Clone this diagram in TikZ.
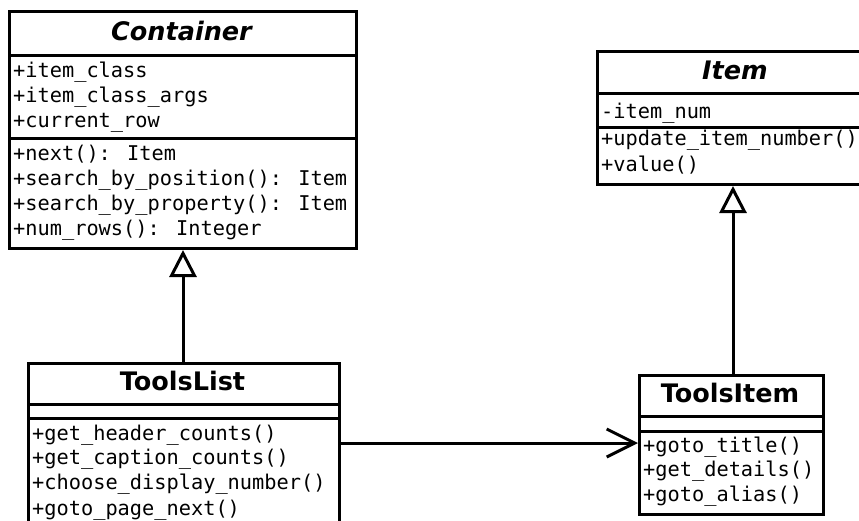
\documentclass[tikz,border=0pt]{standalone}
\usepackage{fontspec}
\setmainfont{DejaVu Sans}
\newfontfamily\membfont{DejaVu Sans Mono}
\usetikzlibrary{arrows.meta}
\tikzset{
  umlbox/.style={draw, line width=3pt, rectangle, inner sep=0pt},
  divline/.style={line width=3pt},
  member/.style={anchor=west, inner sep=0pt, font=\membfont\fontsize{20.3}{24}\selectfont, text height=15pt, text depth=5pt},
  titletext/.style={inner sep=0pt, font=\fontsize{25.5}{28}\selectfont\bfseries, text height=19pt, text depth=5pt},
  abstitle/.style={titletext, font=\fontsize{25.5}{28}\selectfont\bfseries\itshape},
  conn/.style={line width=3pt},
  gen/.style={conn, -{Triangle[open, length=27pt, width=27pt, line width=3pt]}},
  nav/.style={conn, -{Straight Barb[length=28pt, width=28pt, line width=3pt]}},
}
\begin{document}
\begin{tikzpicture}[x=1pt, y=-1pt]
\useasboundingbox (0,0) rectangle (859,520);
\clip (0,0) rectangle (859,520);
% Container
\node[umlbox, anchor=north west, minimum width=347pt, minimum height=237pt] (cont) at (8,10) {};
\draw[divline] (8,55) -- (355,55);
\draw[divline] (8,138) -- (355,138);
\node[abstitle] (contT) at (181.5,33) {Container};
\node[member] (c1) at (13,72) {+item\_class};
\node[member] (c2) at (13,97) {+item\_class\_args};
\node[member] (c3) at (13,122) {+current\_row};
\node[member] (c4) at (13,155) {+next(): Item};
\node[member] (c5) at (13,180) {+search\_by\_position(): Item};
\node[member] (c6) at (13,205) {+search\_by\_property(): Item};
\node[member] (c7) at (13,230) {+num\_rows(): Integer};
% Item
\node[umlbox, anchor=north west, minimum width=284pt, minimum height=133pt] (item) at (596,50) {};
\draw[divline] (596,93) -- (880,93);
\draw[divline] (596,127) -- (880,127);
\node[abstitle] (itemT) at (735,72) {Item};
\node[member] (i1) at (601,113) {-item\_num};
\node[member] (i2) at (601,140) {+update\_item\_number()};
\node[member] (i3) at (601,166) {+value()};
% ToolsList
\node[umlbox, anchor=north west, minimum width=311pt, minimum height=200pt] (tl) at (27,362) {};
\draw[divline] (27,404) -- (338,404);
\draw[divline] (27,418) -- (338,418);
\node[titletext] (tlT) at (182.5,383) {ToolsList};
\node[member] (t1) at (32,435) {+get\_header\_counts()};
\node[member] (t2) at (32,459) {+get\_caption\_counts()};
\node[member] (t3) at (32,484) {+choose\_display\_number()};
\node[member] (t4) at (32,510) {+goto\_page\_next()};
% ToolsItem
\node[umlbox, anchor=north west, minimum width=184pt, minimum height=139pt] (ti) at (638,374) {};
\draw[divline] (638,416) -- (822,416);
\draw[divline] (638,431) -- (822,431);
\node[titletext] (tiT) at (730,395) {ToolsItem};
\node[member] (k1) at (643,447) {+goto\_title()};
\node[member] (k2) at (643,471) {+get\_details()};
\node[member] (k3) at (643,496) {+goto\_alias()};
% connectors
\coordinate (genx) at (733,0);
\coordinate (navy) at (0,443);
\draw[gen] (tl.north -| cont.south) -- (cont.south);
\draw[gen] (ti.north -| genx) -- (item.south -| genx);
\draw[nav] (tl.east |- navy) -- (ti.west |- navy);
\end{tikzpicture}
\end{document}
